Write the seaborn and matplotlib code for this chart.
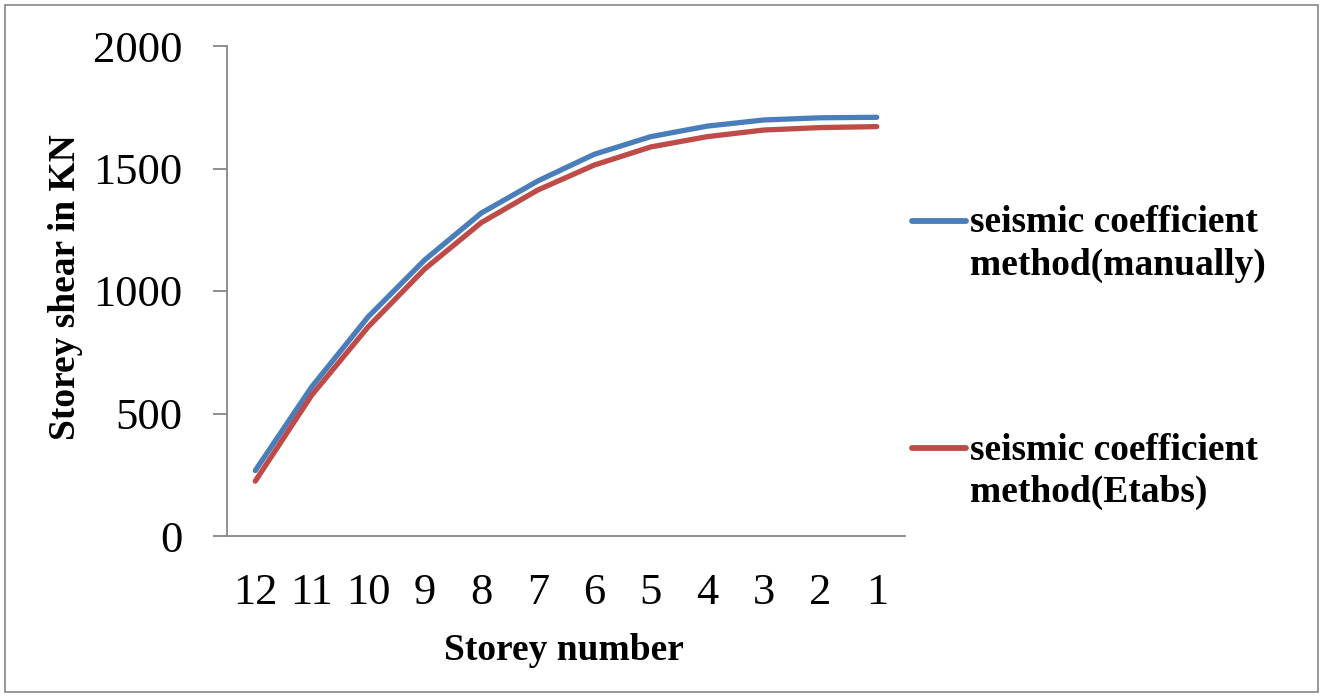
import matplotlib
matplotlib.use("Agg")
import matplotlib.pyplot as plt
import seaborn as sns
import pandas as pd
from matplotlib.patches import Rectangle
from matplotlib.legend_handler import HandlerLine2D

storeys = ["12", "11", "10", "9", "8", "7", "6", "5", "4", "3", "2", "1"]
manual = [267, 609, 895, 1127, 1318, 1449, 1558, 1630, 1673, 1698, 1707, 1709]
etabs = [224, 575, 854, 1090, 1279, 1412, 1514, 1588, 1630, 1657, 1667, 1671]
series_names = ["seismic coefficient\nmethod(manually)", "seismic coefficient\nmethod(Etabs)"]
colors = ["#4A7EBB", "#BE4B48"]

df = pd.DataFrame({
    "Storey": storeys * 2,
    "Shear": manual + etabs,
    "Series": [series_names[0]] * len(storeys) + [series_names[1]] * len(storeys),
})

sns.set_theme(style="white")
plt.rcParams["font.family"] = ["Liberation Serif", "DejaVu Serif"]
plt.rcParams["text.color"] = "black"
plt.rcParams["axes.labelcolor"] = "black"
plt.rcParams["xtick.color"] = "black"
plt.rcParams["ytick.color"] = "black"

fig = plt.figure(figsize=(13.23, 6.97), dpi=100)
ax = fig.add_axes([227/1323, 1 - 536/697, 678/1323, 490/697])

sns.lineplot(data=df, x="Storey", y="Shear", hue="Series", palette=colors,
             linewidth=3.8, ax=ax, sort=False, legend=True,
             solid_capstyle="round")

ax.set_xlim(-0.5, len(storeys) - 0.5)
ax.set_ylim(0, 2000)
ax.set_yticks([0, 500, 1000, 1500, 2000])

gray = "#868686"
for s in ["top", "right"]:
    ax.spines[s].set_visible(False)
for s in ["left", "bottom"]:
    ax.spines[s].set_color(gray)
    ax.spines[s].set_linewidth(1.3)

ax.tick_params(axis="y", which="major", left=True, length=10, width=1.3,
               color=gray, labelcolor="black", pad=22, labelsize=32,
               direction="out")
ax.tick_params(axis="x", which="major", bottom=False, length=0, pad=27,
               labelsize=32, labelcolor="black")

ax.set_xlabel("Storey number", fontsize=27, fontweight="bold", color="black")
ax.set_ylabel("Storey shear in KN", fontsize=27, fontweight="bold", color="black")
ax.xaxis.set_label_coords(0.497, -0.197)
ax.yaxis.set_label_coords(-0.213, 0.508)


class TopLineHandler(HandlerLine2D):
    """Place the legend line next to the first line of a two-line label."""
    def create_artists(self, legend, orig_handle, xdescent, ydescent,
                       width, height, fontsize, trans):
        artists = super().create_artists(legend, orig_handle, xdescent,
                                         ydescent, width, height, fontsize,
                                         trans)
        for a in artists:
            y = a.get_ydata()
            a.set_ydata([v + 17 for v in y])
        return artists


handles, labels = ax.get_legend_handles_labels()
ax.get_legend().remove()
leg = fig.legend(handles, labels, loc="upper left",
                 bbox_to_anchor=(912/1323, 1 - 205/697),
                 frameon=False, handlelength=1.45,
                 handletextpad=0.1, labelspacing=4.0, borderpad=0,
                 borderaxespad=0, prop={"weight": "bold", "size": 27},
                 handler_map={h: TopLineHandler() for h in handles})
for line in leg.get_lines():
    line.set_linewidth(4.2)
    line.set_solid_capstyle("round")
for t in leg.get_texts():
    t.set_linespacing(1.28)
    t.set_color("black")

fig.patches.append(Rectangle((5/1323, 5/697), 1313/1323, 687/697,
                             transform=fig.transFigure, fill=False,
                             edgecolor=gray, linewidth=1.2))

fig.savefig("out.png", dpi=100)
